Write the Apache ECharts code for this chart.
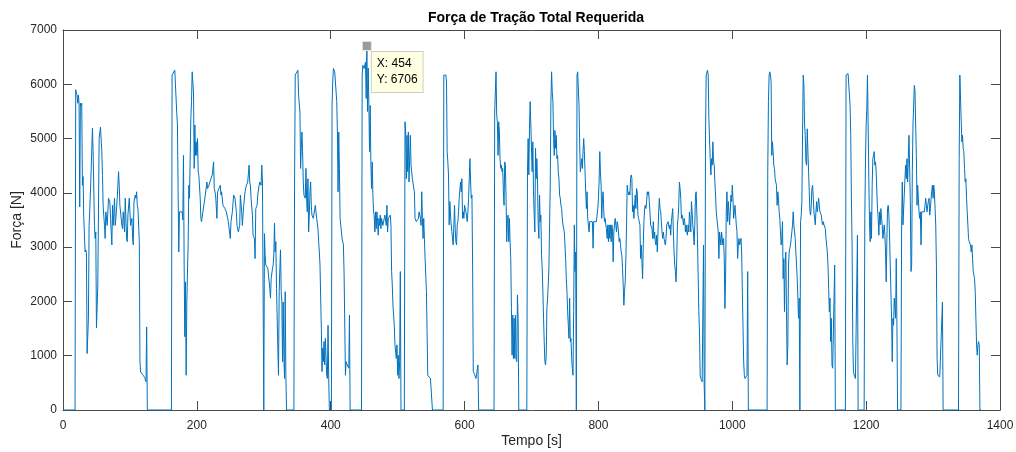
<!DOCTYPE html>
<html>
<head>
<meta charset="utf-8">
<script src="https://cdn.jsdelivr.net/npm/echarts@6/dist/echarts.min.js"></script>
<style>
html,body{margin:0;padding:0;background:#fff;}
#c{width:1016px;height:452px;}
</style>
</head>
<body>
<div id="c"></div>
<script>
// ---- Data: [tempo (s), força (N)] ----
const trecho1 = [[0,0],[18,0],[19,5900],[20,5850],[21,5800],[22,5650],[23,5800],[24,5650],[25,3740],[26,5650],
[27,5600],[28,5650],[29,4140],[30,4300],[31,3560],[33,2910],[34,2950],[35,2900],[36,1040],[38,1690],
[39,3400],[40,3680],[42,4390],[44,5190],[45,4760],[47,3400],[48,3160],[49,3280],[50,1510],[52,2300],
[53,2300],[54,5000],[56,5210],[58,4760],[59,4320],[60,3740],[62,3400],[63,3160],[64,3650],[66,3400],
[67,3400],[68,3900],[70,3830],[71,3530],[73,3040],[74,3770],[75,3400],[77,3900],[78,3400],[79,3530],
[81,3900],[82,4140],[83,4390],[84,4140],[85,3770],[87,3770],[88,3400],[89,3340],[90,3650],[92,3280],
[93,3900],[95,3160],[96,3100],[97,3590],[99,3900],[100,3650],[101,3400],[103,3530],[104,3160],[105,3040],
[106,3830],[108,3960],[109,3900],[110,4020],[111,3770],[112,3710],[114,3100],[115,890],[116,700],[119,650],
[122,600],[124,520],[125,1530],[126,0]];
const trecho2 = [[162,0],[163,6170],[165,6200],[167,6260],[168,6240],[169,6260],[170,5460],[171,5250],[172,4020],[173,2910],
[174,3650],[176,3650],[178,3650],[179,3500],[180,4690],[181,2670],[182,1350],[183,2360],[184,640],[185,1990],
[187,3100],[188,4140],[189,3900],[191,5370],[192,5680],[193,6230],[194,6040],[195,5860],[196,4450],[197,5250],
[198,4690],[199,4940],[200,4690],[201,5000],[202,4390],[203,4320],[205,3900],[206,3530],[207,3470],[209,3650],
[210,3650],[212,3900],[215,4200],[216,4080],[218,4140],[220,4140],[221,4260],[223,4330],[225,4570],[226,4080],
[228,3960],[230,3530],[231,4020],[233,4080],[235,4140],[236,3960],[237,4020],[239,3770],[240,3740],[242,3710],
[244,3650],[246,3530],[247,3470],[250,3160],[251,3470],[253,3650],[255,3960],[257,3900],[259,3650],[260,3400],
[262,3280],[264,3400],[265,3960],[267,3650],[268,3400],[269,3590],[270,3770],[272,4020],[274,4140],[276,4200],
[278,4510],[279,4200]];
const trecho3 = [[280,4140],[281,3900],[283,3590],[284,3220],[286,3160],[287,2790],[288,3710],[290,3770],[291,3960],[293,4140],
[294,4200],[296,4140],[297,4510],[298,4200],[299,4200],[300,0],[301,3250],[302,2850],[303,2670],[305,2670],
[306,2610],[308,2610],[309,2240],[310,2060],[311,2420],[313,2610],[314,2670],[315,2850],[316,3440],[317,2910],
[318,3100],[319,2240],[321,1140],[322,640],[323,2180],[324,2610],[325,2950],[326,2180],[327,1990],[328,890],
[329,1990],[330,1010],[331,580],[332,2180],[333,640],[334,0],[345,0],[346,4200],[347,6170],[349,6200],
[351,6260],[352,5800],[354,5490],[355,4450],[356,4820],[357,5120],[358,4760],[359,4200],[360,3960],[362,3900],
[363,4450],[364,3900],[365,3650],[366,4260],[367,3280],[368,3590],[369,4020],[370,4200],[371,3770],[372,3590],
[374,3530],[376,3560],[377,3770],[378,3650],[379,3530],[381,3340],[382,3100],[383,2910],[384,2670],[385,2060],
[386,1500],[387,710],[388,1140],[389,890],[390,1260],[391,830],[392,1320],[394,640],[395,580],[396,1560],
[397,580],[398,0],[401,0],[402,5610],[403,6040],[404,6290],[406,6230],[408,6230],[409,5680],[410,5120],
[411,4020],[412,5120],[413,4450],[414,3530],[416,3280],[417,3160],[419,3040],[420,2490],[422,640]];
const trecho4 = [[423,890],[424,850],[427,770],[428,1750],[429,0],[446,0],[447,6170],[448,6350],[450,6290],[452,6410],
[453,5740],[454,6706],[455,5500],[456,6300],[457,5610],[458,4760],[459,5610],[460,4570],[461,4080],[462,4570],
[463,3960],[464,3650],[465,3590],[466,3280],[467,3650],[468,3340],[469,3650],[470,3470],[471,3220],[472,3530],
[473,3400],[474,3590],[475,3340],[476,3530],[477,3560],[478,3400],[480,3530],[481,3590],[483,3400],[484,3770],
[485,3280],[486,3530],[487,3530],[489,3590],[490,3400],[491,2550],[492,2300],[493,1930],[495,1560],[496,1200],
[498,950],[499,1200],[500,640],[501,1010],[502,580],[503,890],[504,2550],[505,0],[510,0],[511,5310],
[512,5120],[513,4260],[514,5060],[515,4390],[516,5120],[517,4200],[519,5060],[520,4510],[522,4260],[523,4260],
[525,4020],[526,3530],[528,3470],[529,3470],[531,3530],[532,3650],[534,3530],[535,3400],[536,4020],[537,3530],
[538,3160],[539,3530],[540,3160],[541,2790],[543,2180],[544,1440],[545,640],[547,610],[549,580],[551,550],
[552,0]];
const trecho5 = [[568,0],[569,6170],[570,6200],[572,6170],[573,6040],[574,4760],[575,4570],[576,4330],[577,3410],[578,3840],
[579,3590],[580,3410],[581,3290],[582,3160],[583,3040],[584,3410],[585,3770],[586,3340],[587,3100],[588,3040],
[589,3410],[590,3470],[591,3650],[592,3900],[594,4200],[595,4020],[596,4260],[597,3530],[598,3650],[599,3530],
[600,3770],[601,3710],[602,3650],[603,3650],[604,3470],[605,3650],[606,3900],[607,4260],[608,4630],[609,4200],
[610,3900],[611,3960],[612,2670],[613,710],[615,650],[617,580],[619,550],[620,830],[621,0],[644,0],
[645,5490],[647,6230],[648,5430],[649,5310],[650,4690],[651,5310],[652,5120],[653,4630],[654,4450],[655,4510],
[656,4390],[657,4450],[658,4020],[659,3770],[660,4570],[661,4510],[662,3900],[663,3100],[664,3530],[665,3590],
[666,3100],[667,3530],[668,3100],[669,2790],[670,1870],[671,1010],[672,1750],[673,950],[674,1690],[675,950],
[676,1750],[677,950],[678,890],[679,2120],[680,1690],[681,0],[693,0],[694,4390],[695,5000],[696,4330],
[697,5180],[698,5680],[699,5250],[700,5250],[701,4390],[702,4940],[703,4020],[704,3590],[705,3280]];
const trecho6 = [[706,4820],[707,4260],[708,4630],[709,4200],[710,3410],[711,3160],[712,3960],[713,3470],[714,3590],[715,2850],
[716,2610],[717,2180],[718,1690],[719,1260],[720,890],[721,830],[722,1010],[723,1870],[724,2060],[725,2300],
[726,2610],[727,3410],[728,4140],[729,5680],[730,6230],[731,5860],[732,5680],[733,5000],[734,4690],[735,5150],
[736,4820],[737,5060],[738,4630],[739,4690],[740,4390],[741,4260],[742,3960],[743,3900],[744,3770],[745,3710],
[746,3530],[747,3410],[748,3410],[749,3280],[750,3040],[751,2790],[752,2420],[753,2180],[754,1810],[755,1560],
[756,1320],[757,2060],[758,1260],[759,1320],[760,950],[761,770],[762,640],[763,1810],[764,3410],[765,2550],
[766,2910],[767,0],[768,6170],[769,6230],[770,6260],[771,5610],[772,4880],[773,4390],[774,4510],[775,4630],
[776,4450],[777,4760],[778,5000],[779,4760],[780,4390],[781,4020],[782,3710],[783,4020],[784,3530],[785,3410],
[786,3280],[787,3470],[788,3440],[789,3470],[791,3470],[792,2980],[793,3470],[795,3470],[797,3470],[799,3710],
[800,3900],[801,4200],[802,4760],[803,4390],[804,4140],[805,3530],[806,3900],[807,4020],[808,3650],[809,3470],
[810,3530],[811,3410],[812,3340],[813,3160],[814,3410],[815,3100],[816,3410],[817,3160],[818,3410],[819,3100],
[820,3410],[821,3340],[822,2730],[823,3280],[824,3410],[825,3530],[826,3410],[827,3280],[828,3470],[829,3410],
[830,3280],[831,3100],[832,3160],[833,3040],[834,2910],[835,2850],[836,2610],[837,2300],[838,1930],[839,2180],
[840,2360],[841,2790],[842,3410],[843,4140],[844,4020],[845,3960],[846,4020],[847,3960]];
const trecho7 = [[848,4260],[849,4330],[850,4260],[851,3650],[852,3770],[853,3530],[854,3770],[855,3960],[856,3710],[857,4080],
[858,4020],[859,3590],[860,3530],[861,3470],[862,3410],[863,2790],[864,3040],[865,2730],[866,2420],[867,3040],
[868,3470],[869,3710],[870,3770],[871,3710],[872,3840],[873,4020],[874,3960],[875,4020],[876,3840],[877,3650],
[878,3410],[879,3410],[880,3340],[881,3160],[882,3470],[883,3160],[884,3280],[885,3100],[886,3040],[887,3220],
[888,2910],[889,3280],[890,3650],[891,3900],[892,3710],[893,3650],[894,3470],[895,3280],[896,3160],[897,3280],
[898,3160],[899,3160],[900,3040],[901,3160],[902,3410],[903,3410],[904,3470],[905,3470],[906,3340],[907,3410],
[908,3220],[909,3470],[910,3470],[911,3710],[912,3280],[913,2910],[914,2670],[915,2550],[916,2360],[917,2790],
[918,3410],[919,3530],[920,3770],[921,4200],[922,4080],[923,3900],[924,3530],[925,3590],[926,3530],[927,3410],
[928,3530],[929,3470],[930,3280],[931,3410],[932,3280],[933,3220],[934,3410],[935,3280],[936,3650],[937,3470],
[938,3280],[939,3840],[940,3650],[941,3410],[942,3280],[943,3040],[944,3410],[945,3960],[946,4020],[947,3650],
[948,3160],[949,2490],[950,1810],[951,1440],[952,640],[953,580],[954,550],[955,520],[956,490],[957,3040],
[958,460],[959,0],[960,5060],[961,6170],[962,6200],[963,6260],[964,6170],[965,5370],[966,5000],[967,4630],
[968,4330],[969,4630],[970,4510],[971,4940],[972,4570],[973,4510],[974,4200],[975,3960],[976,3650],[977,3530],
[978,3410],[979,3280],[980,2790],[981,3280],[982,3160],[983,3040],[984,3280],[985,3160],[986,3040],[987,3160],
[988,2790],[989,1870],[990,2420]];
const trecho8 = [[991,3650],[992,4020],[993,3470],[994,3840],[995,3650],[996,3410],[997,3650],[998,3960],[999,3840],[1000,4140],
[1001,3900],[1002,3530],[1003,3650],[1004,3770],[1005,3590],[1006,3410],[1007,3280],[1008,2790],[1009,3040],[1010,3160],
[1011,3040],[1012,3100],[1013,3160],[1014,2910],[1015,2180],[1016,1560],[1017,890],[1018,640],[1019,580],[1020,580],
[1021,580],[1022,640],[1023,2550],[1024,0],[1052,0],[1053,4390],[1054,5680],[1055,6170],[1056,6230],[1057,6170],
[1058,6040],[1059,4690],[1060,4940],[1061,4760],[1062,4510],[1063,4450],[1064,4260],[1065,4200],[1066,4140],[1067,3770],
[1068,4020],[1069,3900],[1070,3650],[1071,3530],[1072,3280],[1073,3040],[1074,3160],[1075,3470],[1076,2420],[1077,2790],
[1078,1810],[1079,2670],[1080,2910],[1081,1810],[1082,830],[1083,1200],[1084,2670],[1085,2910],[1086,2980],[1087,3040],
[1088,3160],[1089,3280],[1090,3410],[1091,3650],[1092,3410],[1093,3280],[1094,3160],[1095,2910],[1096,2670],[1097,2420],
[1098,2060],[1099,1690],[1100,2060],[1101,0],[1102,3470],[1103,3590],[1104,3840],[1105,5120],[1106,6170],[1107,5980],
[1108,5250],[1109,5060],[1110,4570],[1111,4510],[1112,5180],[1113,4760],[1114,4390],[1115,4020],[1116,3650],[1117,3590],
[1118,3770],[1119,4080],[1120,4140],[1121,3900],[1122,3650],[1123,3530],[1124,3410],[1125,3650],[1126,3840],[1127,3650],
[1128,3770],[1129,3900],[1130,3770],[1131,3650],[1132,3650]];
const trecho9 = [[1133,3590],[1134,3470],[1135,3410],[1136,3470],[1137,3410],[1138,3410],[1139,3340],[1140,3160],[1141,3040],[1142,2910],
[1143,2670],[1144,2240],[1145,1810],[1146,2060],[1147,1260],[1148,1690],[1149,830],[1150,770],[1151,770],[1152,770],
[1153,2670],[1154,0],[1169,0],[1170,6170],[1171,6200],[1173,6200],[1175,6230],[1176,5610],[1177,5060],[1178,3900],
[1179,3040],[1180,1320],[1181,710],[1182,650],[1184,580],[1186,550],[1187,3220],[1188,0],[1197,0],[1198,3530],
[1199,4570],[1200,5250],[1201,5550],[1202,6170],[1203,5250],[1204,4260],[1205,3470],[1206,3100],[1207,3650],[1208,3160],
[1209,4140],[1210,4630],[1211,4690],[1212,4760],[1213,4510],[1214,4570],[1215,4390],[1216,4020],[1217,3710],[1218,3530],
[1219,3220],[1220,3650],[1221,3410],[1222,3710],[1223,3530],[1224,3410],[1225,3160],[1226,3280],[1227,3410],[1228,3220],
[1229,2910],[1230,2360],[1231,3160],[1232,3710],[1233,3770],[1234,3590],[1235,3220],[1236,2670],[1237,2180],[1238,1690],
[1239,890],[1240,1690],[1241,1560],[1242,2060],[1243,1870],[1244,1690],[1245,2790],[1246,1560],[1247,0],[1252,0],
[1253,3410],[1254,4200],[1255,3410],[1256,3410],[1257,3410],[1258,4260],[1259,4510],[1260,4260],[1261,4630],[1262,4200],
[1263,4630],[1264,5060],[1265,5060],[1266,3840],[1267,2550],[1268,2670],[1269,4390],[1270,5250],[1271,5610],[1272,5980],
[1273,5860],[1274,5250],[1275,4690]];
const trecho10 = [[1276,3770],[1277,4140],[1278,3900],[1279,3650],[1280,3530],[1281,3650],[1282,3040],[1283,3650],[1284,3650],[1285,3650],
[1286,3650],[1287,3650],[1288,3770],[1289,3900],[1290,3770],[1291,3650],[1292,3770],[1293,3840],[1294,3900],[1295,3590],
[1296,3710],[1297,3900],[1298,4020],[1299,4140],[1300,3900],[1301,4140],[1302,4020],[1303,3710],[1304,3410],[1305,2670],
[1306,950],[1307,640],[1308,610],[1309,610],[1310,610],[1311,590],[1312,580],[1313,580],[1314,1990],[1315,0],
[1338,0],[1339,4630],[1340,6170],[1341,6200],[1342,6170],[1343,4940],[1344,5060],[1345,4820],[1346,4760],[1347,4450],
[1348,4200],[1349,4260],[1350,3900],[1351,3650],[1352,3410],[1353,3160],[1354,3100],[1355,3100],[1356,3040],[1357,2910],
[1358,3040],[1359,2790],[1360,2550],[1361,2550],[1362,2420],[1363,2180],[1364,1690],[1365,1200],[1366,1010],[1367,1200],
[1368,1260],[1369,1200],[1370,0],[1372,0]];

// Data tip
const dicaX = 454;
const dicaY = 6706;

// Axis ranges / ticks
const xMin = 0, xMax = 1400, xStep = 200;
const yMin = 0, yMax = 7000, yStep = 1000;

const serie = [].concat(trecho1, trecho2, trecho3, trecho4, trecho5, trecho6, trecho7, trecho8, trecho9, trecho10);

const FONT = '"Liberation Sans", Arial, Helvetica, sans-serif';
const AX = '#4a4a4a';
const chart = echarts.init(document.getElementById('c'), null, {renderer: 'canvas'});
const plain = v => String(v);

function axisBase(extra) {
  return Object.assign({
    type: 'value',
    axisLine: {show: true, onZero: false, lineStyle: {color: AX, width: 1}},
    axisTick: {show: true, inside: true, length: 9, lineStyle: {color: AX, width: 1}},
    splitLine: {show: false},
    axisLabel: {color: '#262626', fontSize: 12, fontFamily: FONT, formatter: plain}
  }, extra);
}

chart.setOption({
  animation: false,
  backgroundColor: '#ffffff',
  title: {
    text: 'Força de Tração Total Requerida',
    left: 531, top: 6, textAlign: 'center',
    textStyle: {fontSize: 14, fontWeight: 'bold', color: '#000', fontFamily: FONT}
  },
  grid: {left: 63, right: 16, top: 30, bottom: 42, containLabel: false, outerBoundsMode: 'none'},
  xAxis: [
    axisBase({min: xMin, max: xMax, interval: xStep, position: 'bottom',
      name: 'Tempo [s]', nameLocation: 'middle', nameGap: 24, nameMoveOverlap: false,
      nameTextStyle: {fontSize: 14, color: '#262626', fontFamily: FONT},
      axisLabel: {color: '#262626', fontSize: 12, fontFamily: FONT, margin: 10, formatter: plain}}),
    axisBase({min: xMin, max: xMax, interval: xStep, position: 'top', axisLabel: {show: false}})
  ],
  yAxis: [
    axisBase({min: yMin, max: yMax, interval: yStep, position: 'left',
      name: 'Força [N]', nameLocation: 'middle', nameGap: 39, nameMoveOverlap: false,
      nameTextStyle: {fontSize: 14, color: '#262626', fontFamily: FONT},
      axisLabel: {color: '#262626', fontSize: 12, fontFamily: FONT, margin: 6, formatter: plain}}),
    axisBase({min: yMin, max: yMax, interval: yStep, position: 'right', axisLabel: {show: false}})
  ],
  series: [{
    type: 'line',
    xAxisIndex: 0, yAxisIndex: 0,
    data: serie,
    showSymbol: false,
    symbol: 'none',
    lineStyle: {color: '#0072BD', width: 1},
    markPoint: {
      symbol: 'rect',
      symbolSize: 9,
      itemStyle: {color: '#9b9b9b', borderColor: '#e8e8d0', borderWidth: 1},
      label: {
        show: true,
        position: [10, 11],
        formatter: 'X: ' + dicaX + '\nY: ' + dicaY,
        color: '#000',
        fontSize: 12,
        lineHeight: 16,
        fontFamily: FONT,
        align: 'left',
        verticalAlign: 'top',
        backgroundColor: '#FFFFE1',
        borderColor: '#cfcfc0',
        borderWidth: 1,
        padding: [4, 5, 4, 5]
      },
      data: [{coord: [dicaX, dicaY]}]
    }
  }]
});
</script>
</body>
</html>
